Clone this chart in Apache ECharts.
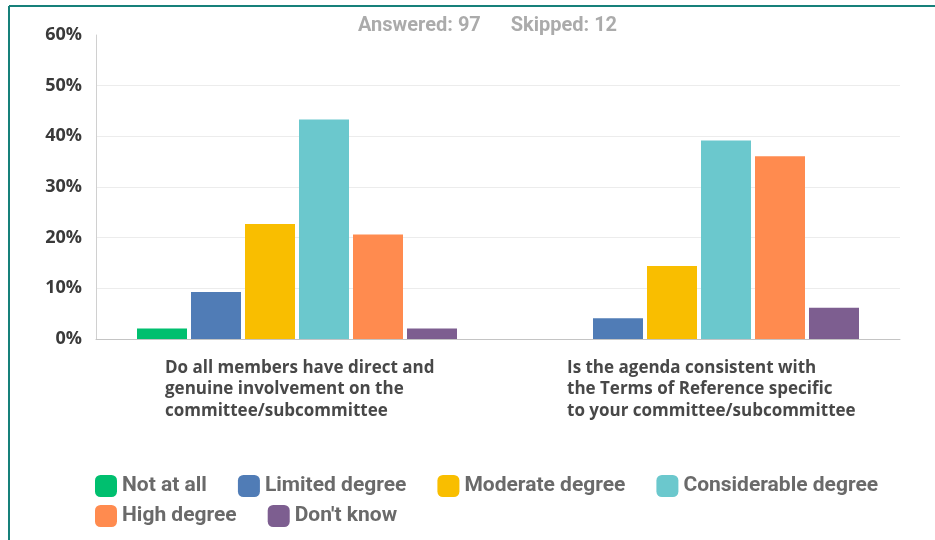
<!DOCTYPE html>
<html>
<head>
<meta charset="utf-8">
<script src="https://cdn.jsdelivr.net/npm/echarts@6/dist/echarts.min.js"></script>
<style>
  html, body { margin: 0; padding: 0; background: #fff; }
  #chart { width: 935px; height: 540px; }
</style>
</head>
<body>
<div id="chart"></div>
<script>
// questions (x categories)
var questions = [
  'Do all members have direct and\ngenuine involvement on the\ncommittee/subcommittee',
  'Is the agenda consistent with\nthe Terms of Reference specific\nto your committee/subcommittee'
];
// answer options (series)
var answers = ['Not at all', 'Limited degree', 'Moderate degree', 'Considerable degree', 'High degree', "Don't know"];
// percent per answer, one value per question
var notAtAll = [2.06, 0];
var limited = [9.28, 4.12];
var moderate = [22.68, 14.43];
var considerable = [43.30, 39.18];
var high = [20.62, 36.08];
var dontKnow = [2.06, 6.19];
var yTicks = [0, 10, 20, 30, 40, 50, 60];

var colors = ['#00bf6f', '#507cb6', '#f9be00', '#6bc8cd', '#ff8b4f', '#7d5e90'];
var values = [notAtAll, limited, moderate, considerable, high, dontKnow];

var series = answers.map(function (name, i) {
  return {
    name: name,
    type: 'bar',
    barWidth: 50,
    barGap: '8%',
    itemStyle: { color: colors[i] },
    data: values[i]
  };
});

var legendStyle = {
  orient: 'horizontal',
  itemWidth: 22,
  itemHeight: 22,
  icon: 'roundRect',
  itemGap: 31,
  textStyle: { fontFamily: 'Roboto', fontSize: 21, fontWeight: 700, color: '#6a6a6a', padding: [0, 0, 0, 0] }
};

var option = {
  backgroundColor: '#fff',
  animation: false,
  title: {
    text: 'Answered: 97      Skipped: 12',
    left: 353,
    top: 11,
    textStyle: { fontFamily: 'Roboto', fontSize: 20, fontWeight: 700, color: '#ababab' }
  },
  legend: [
    Object.assign({ left: 90, top: 470, data: answers.slice(0, 4) }, legendStyle),
    Object.assign({ left: 90, top: 500, data: answers.slice(4) }, legendStyle)
  ],
  grid: { left: 96, right: 35, top: 35, bottom: 201, containLabel: false },
  xAxis: {
    type: 'category',
    data: questions,
    axisLine: { lineStyle: { color: '#c4c4c4', width: 1 } },
    axisTick: { show: false },
    axisLabel: {
      margin: 18,
      interval: 0,
      formatter: function (v) {
        return v.split('\n').map(function (l) { return '{q|' + l + '}'; }).join('\n');
      },
      rich: {
        q: {
          width: 264,
          align: 'left',
          fontFamily: 'Open Sans',
          fontWeight: 700,
          fontSize: 17,
          lineHeight: 21.5,
          color: '#484848'
        }
      }
    }
  },
  yAxis: {
    type: 'value',
    min: yTicks[0],
    max: yTicks[yTicks.length - 1],
    interval: 10,
    axisLine: { show: true, lineStyle: { color: '#d0d0d0' } },
    axisTick: { show: false },
    axisLabel: {
      margin: 14,
      formatter: '{value}%',
      fontFamily: 'Open Sans',
      fontWeight: 700,
      fontSize: 18,
      color: '#3a3a3a'
    },
    splitLine: {
      lineStyle: { color: ['#ececec', '#ececec', '#ececec', '#ececec', '#ececec', '#ececec', 'rgba(0,0,0,0)'] }
    }
  },
  series: series,
  graphic: [
    { type: 'line', shape: { x1: 9, y1: 6, x2: 935, y2: 6 }, style: { stroke: '#17807a', lineWidth: 2 } },
    { type: 'line', shape: { x1: 9, y1: 6, x2: 9, y2: 540 }, style: { stroke: '#17807a', lineWidth: 2 } }
  ]
};

var chart = echarts.init(document.getElementById('chart'));
chart.setOption(option);
</script>
</body>
</html>
